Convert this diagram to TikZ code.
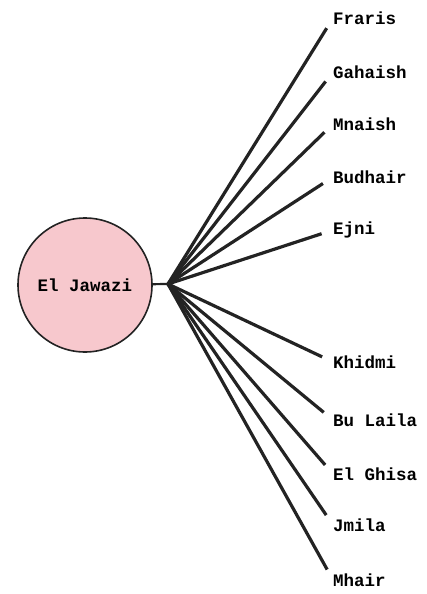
\documentclass[tikz,border=0pt]{standalone}
\usepackage{fontspec}
\setmonofont{Liberation Mono}
\usepackage{xcolor}
\usepackage{tikz}
\usetikzlibrary{positioning,calc}

\definecolor{villagepink}{RGB}{247,200,205}
\definecolor{spokegray}{RGB}{35,35,35}

\tikzset{
  village/.style={draw=spokegray, line width=1.6pt, circle, fill=villagepink,
    minimum size=134pt, inner sep=0pt, font=\ttfamily\bfseries\fontsize{17.5}{20}\selectfont},
  lbl/.style={anchor=west, inner sep=0pt, font=\ttfamily\bfseries\fontsize{17.5}{20}\selectfont},
  spoke/.style={draw=spokegray, line width=3.2pt, shorten >=12pt}
}

\begin{document}
\begin{tikzpicture}[x=1pt, y=-1pt]
\useasboundingbox (0,0) rectangle (427,594);

\node[village] (jawazi) at (85,285) {El Jawazi};
\coordinate (hub) at (168,284);

\node[lbl] (fraris) at (333,18) {Fraris};
\node[lbl] (gahaish) at (333,72) {Gahaish};
\node[lbl] (mnaish) at (333,124) {Mnaish};
\node[lbl] (budhair) at (333,177) {Budhair};
\node[lbl] (ejni) at (333,230) {Ejni};

\node[lbl] (khidmi) at (333,362) {Khidmi};
\node[lbl] (bulaila) at (333,420) {Bu Laila};
\node[lbl] (ghisa) at (333,474) {El Ghisa};
\node[lbl] (jmila) at (333,525) {Jmila};
\node[lbl] (mhair) at (333,580) {Mhair};

\draw[spokegray, line width=2.2pt] (jawazi) -- (hub);

\draw[spoke] (hub) -- (fraris.west);
\draw[spoke] (hub) -- (gahaish.west);
\draw[spoke] (hub) -- (mnaish.west);
\draw[spoke] (hub) -- (budhair.west);
\draw[spoke] (hub) -- (ejni.west);
\draw[spoke] (hub) -- (khidmi.west);
\draw[spoke] (hub) -- (bulaila.west);
\draw[spoke] (hub) -- (ghisa.west);
\draw[spoke] (hub) -- (jmila.west);
\draw[spoke] (hub) -- (mhair.west);

\end{tikzpicture}
\end{document}
